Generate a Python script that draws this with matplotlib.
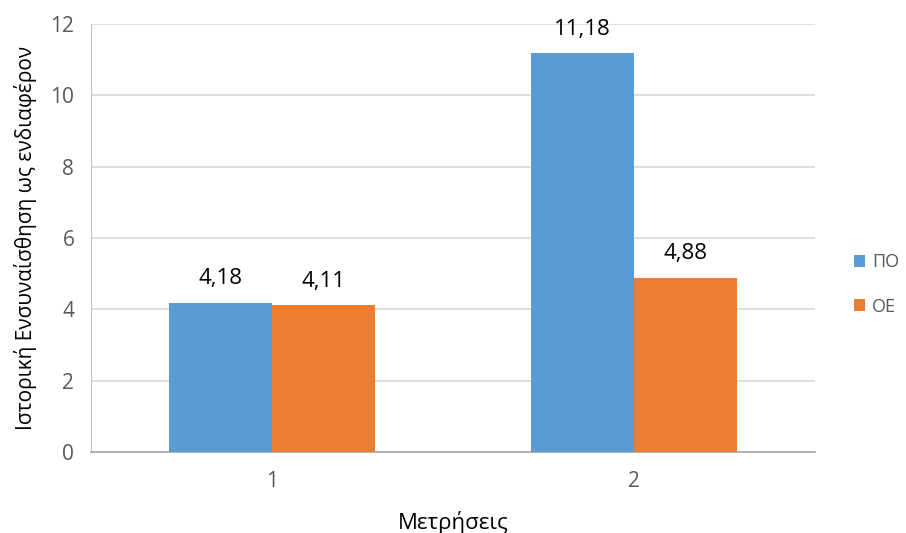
import matplotlib
matplotlib.use("Agg")
import matplotlib.pyplot as plt
import numpy as np

categories = ["1", "2"]
series_names = ["ΠΟ", "ΟΕ"]
po_values = [4.18, 11.18]
oe_values = [4.11, 4.88]
y_ticks = [0, 2, 4, 6, 8, 10, 12]

plt.rcParams['font.family'] = ['Open Sans', 'DejaVu Sans']

fig = plt.figure(figsize=(9.06, 5.33), dpi=100)
ax = fig.add_axes([91/906, 1-452/533, (815-91)/906, (452-24)/533])

x = np.arange(len(categories))
w = 0.285
colors = ["#5B9BD5", "#ED7D31"]
b1 = ax.bar(x - w/2, po_values, w, color=colors[0], label=series_names[0], zorder=3)
b2 = ax.bar(x + w/2, oe_values, w, color=colors[1], label=series_names[1], zorder=3)

for bars, vals in ((b1, po_values), (b2, oe_values)):
    for r, v in zip(bars, vals):
        ax.text(r.get_x() + r.get_width()/2, v + 0.52, f"{v:.2f}".replace(".", ","),
                ha="center", va="baseline", fontsize=16, color="black", zorder=4)

ax.set_xlim(-0.5, 1.5)
ax.set_ylim(0, 12)
ax.set_yticks(y_ticks)
ax.set_xticks(x)
ax.set_xticklabels(categories)
ax.grid(axis="y", color="#D9D9D9", linewidth=1.2, zorder=0)
for s in ["top", "right"]:
    ax.spines[s].set_visible(False)
ax.spines["left"].set_color("#BFBFBF")
ax.spines["bottom"].set_color("#A6A6A6")
ax.spines["bottom"].set_linewidth(1.2)
ax.tick_params(axis="both", length=0, labelsize=15, colors="#595959")
ax.tick_params(axis="y", pad=12)
ax.tick_params(axis="x", pad=14)

ax.set_ylabel("Ιστορική Ενσυναίσθηση ως ενδιαφέρον", fontsize=15, color="black", labelpad=10)
fig.text((91 + 815) / 2 / 906, 1 - 529/533, "Μετρήσεις", ha="center", va="baseline",
         fontsize=16, color="black")

leg = fig.legend(handles=[b1, b2], labels=series_names, loc="center left",
                 bbox_to_anchor=(854/906, 1-284.5/533), frameon=False,
                 borderpad=0, borderaxespad=0,
                 fontsize=13, handlelength=0.62, handleheight=0.62,
                 labelspacing=1.45, handletextpad=0.38)
for t in leg.get_texts():
    t.set_color("#595959")

fig.savefig("out.png", dpi=100)
